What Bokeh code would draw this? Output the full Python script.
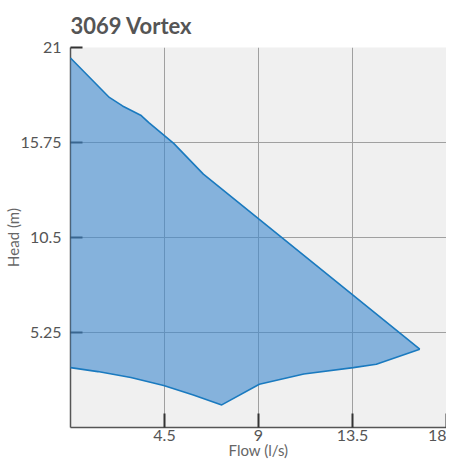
from bokeh.plotting import figure
from bokeh.models import Range1d, FixedTicker, NumeralTickFormatter
from bokeh.embed import file_html
from bokeh.resources import INLINE

title_text = "3069 Vortex"
x_label = "Flow (l/s)"
y_label = "Head (m)"

# upper boundary (max head curve), left to right
flow_top = [0, 1.86, 2.49, 3.36, 3.75, 4.94, 6.36, 16.72]
head_top = [20.42, 18.24, 17.77, 17.26, 16.85, 15.7, 14.0, 4.33]

# lower boundary (min head curve), left to right
flow_bottom = [0, 1.31, 2.89, 4.46, 5.88, 7.24, 9.04, 11.17, 13.54, 14.64, 16.72]
head_bottom = [3.31, 3.09, 2.76, 2.32, 1.80, 1.25, 2.39, 2.96, 3.31, 3.50, 4.33]

x_ticks = [4.5, 9, 13.5, 18]
y_ticks = [5.25, 10.5, 15.75, 21]
x_min, x_max = 0, 18
y_min, y_max = 0, 21

p = figure(frame_width=376, frame_height=380, output_backend="svg", toolbar_location=None,
           x_range=Range1d(x_min, x_max), y_range=Range1d(y_min, y_max),
           title=title_text,
           min_border_left=62, min_border_right=0, min_border_top=40, min_border_bottom=38)

p.background_fill_color = "#f0f0f0"
p.border_fill_color = "white"
p.outline_line_color = None

p.title.text_font = "Lato"
p.title.text_font_size = "22px"
p.title.text_font_style = "bold"
p.title.text_color = "#555555"
p.title.align = "left"
p.title.standoff = 18

p.xaxis.ticker = FixedTicker(ticks=x_ticks, minor_ticks=[])
p.yaxis.ticker = FixedTicker(ticks=y_ticks, minor_ticks=[])
p.xaxis.formatter = NumeralTickFormatter(format="0.[00]")
p.yaxis.formatter = NumeralTickFormatter(format="0.[00]")
p.xaxis.axis_label = x_label
p.yaxis.axis_label = y_label

for ax in (p.xaxis[0], p.yaxis[0]):
    ax.axis_line_color = "#555555"
    ax.axis_line_width = 1.5
    ax.major_tick_line_color = "#333333"
    ax.major_tick_line_width = 2
    ax.major_tick_out = 0
    ax.minor_tick_line_color = None
    ax.major_label_text_font = "Lato"
    ax.major_label_text_font_size = "16px"
    ax.major_label_text_color = "#555555"
    ax.axis_label_text_font = "Lato"
    ax.axis_label_text_font_size = "15px"
    ax.axis_label_text_font_style = "normal"
    ax.axis_label_text_color = "#666666"

p.xaxis.major_tick_in = 14
p.yaxis.major_tick_in = 12
p.xaxis.major_label_standoff = 2
p.yaxis.major_label_standoff = 9
p.xaxis.axis_label_standoff = -3
p.yaxis.axis_label_standoff = -4

p.xgrid.grid_line_color = "#a0a0a0"
p.ygrid.grid_line_color = "#a0a0a0"
p.xgrid.grid_line_width = 1
p.ygrid.grid_line_width = 1

xs = flow_top + flow_bottom[::-1]
ys = head_top + head_bottom[::-1]
p.patch(xs, ys, fill_color="#3e89cf", fill_alpha=0.6, line_color=None, level="overlay")
p.line(flow_top, head_top, line_color="#1a7abf", line_width=1.6, level="overlay")
p.line(flow_bottom, head_bottom, line_color="#1a7abf", line_width=1.6, level="overlay")

open("out.html", "w").write(file_html(p, INLINE))
